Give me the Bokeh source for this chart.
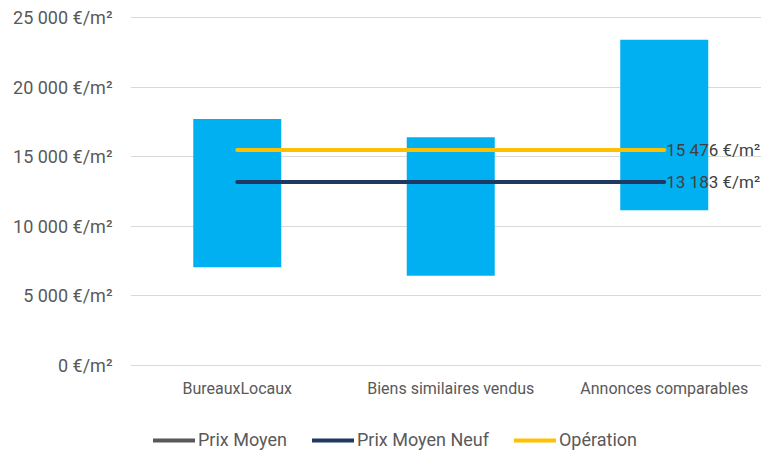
from bokeh.plotting import figure
from bokeh.layouts import column
from bokeh.models import Range1d, FixedTicker, Legend, LegendItem, ColumnDataSource
from bokeh.core.properties import value
from bokeh.embed import file_html
from bokeh.resources import INLINE

categories = ["BureauxLocaux", "Biens similaires vendus", "Annonces comparables"]
bar_low = [7050, 6450, 11150]
bar_high = [17700, 16400, 23400]
prix_moyen = [float("nan"), float("nan"), float("nan")]
prix_moyen_neuf = [13183, 13183, 13183]
operation = [15476, 15476, 15476]
label_neuf = "13 183 €/m²"
label_operation = "15 476 €/m²"
y_ticks = [0, 5000, 10000, 15000, 20000, 25000]
y_tick_labels = ["0 €/m²", "5 000 €/m²", "10 000 €/m²", "15 000 €/m²", "20 000 €/m²", "25 000 €/m²"]
legend_labels = ["Prix Moyen", "Prix Moyen Neuf", "Opération"]

xs = [i + 0.5 for i in range(len(categories))]
FONT = "Roboto"
TXT = "#595959"
COLORS = ["#595959", "#1F3864", "#FFC000"]

W = 761
H_MAIN, H_LEG = 400, 50
LEFT = 130
CAT_W = 213.5
p = figure(width=W, height=H_MAIN, output_backend="svg", toolbar_location=None,
           x_range=Range1d(0, (W - LEFT) / CAT_W), y_range=Range1d(-72, 25072),
           min_border_left=LEFT, min_border_right=0, min_border_top=16, min_border_bottom=34)
p.outline_line_color = None

p.vbar(x=xs, bottom=bar_low, top=bar_high, width=88 / CAT_W, color="#00B0F0", line_color=None)

p.line(x=xs, y=prix_moyen, line_color=COLORS[0], line_width=4, line_cap="round")
p.line(x=xs, y=prix_moyen_neuf, line_color=COLORS[1], line_width=4, line_cap="round")
p.line(x=xs, y=operation, line_color=COLORS[2], line_width=4, line_cap="round")

src = ColumnDataSource(dict(x=[xs[-1], xs[-1]], y=[operation[-1], prix_moyen_neuf[-1]],
                            t=[label_operation, label_neuf]))
p.text(x="x", y="y", text="t", source=src, x_offset=2, text_align="left", text_baseline="middle",
       text_font=value(FONT), text_font_size="17px", text_color="#404040")

p.xgrid.visible = False
p.ygrid.grid_line_color = "#D9D9D9"
p.ygrid.grid_line_width = 1

p.yaxis.ticker = FixedTicker(ticks=y_ticks)
p.yaxis.major_label_overrides = {t: l for t, l in zip(y_ticks, y_tick_labels)}
p.xaxis.ticker = FixedTicker(ticks=xs)
p.xaxis.major_label_overrides = {x: c for x, c in zip(xs, categories)}
for ax in (p.xaxis, p.yaxis):
    ax.axis_line_color = None
    ax.major_tick_line_color = None
    ax.minor_tick_line_color = None
    ax.major_tick_out = 0
    ax.major_tick_in = 0
    ax.major_label_text_font = FONT
    ax.major_label_text_color = TXT
p.yaxis.major_label_text_font_size = "18px"
p.yaxis.major_label_standoff = 18
p.xaxis.major_label_text_font_size = "16px"
p.xaxis.major_label_standoff = 12

# legend strip
pl = figure(width=W, height=H_LEG, output_backend="svg", toolbar_location=None,
            x_range=Range1d(0, 1), y_range=Range1d(0, 1), x_axis_type=None, y_axis_type=None,
            min_border_left=0, min_border_right=0, min_border_top=0, min_border_bottom=0)
pl.outline_line_color = None
pl.xgrid.visible = False
pl.ygrid.visible = False
items = []
for lab, col in zip(legend_labels, COLORS):
    r = pl.line(x=[float("nan")], y=[float("nan")], line_color=col, line_width=4, line_cap="round")
    items.append(LegendItem(label=lab, renderers=[r]))
legend = Legend(items=items, orientation="horizontal", location=(23, 0))
legend.glyph_width = 42
legend.glyph_height = 16
legend.label_height = 16
legend.label_standoff = 3
legend.spacing = 25
legend.padding = 0
legend.margin = 0
legend.border_line_color = None
legend.background_fill_alpha = 0
legend.label_text_font = FONT
legend.label_text_font_size = "18px"
legend.label_text_color = TXT
pl.add_layout(legend)

open("out.html", "w").write(file_html(column(p, pl, spacing=0), INLINE))
